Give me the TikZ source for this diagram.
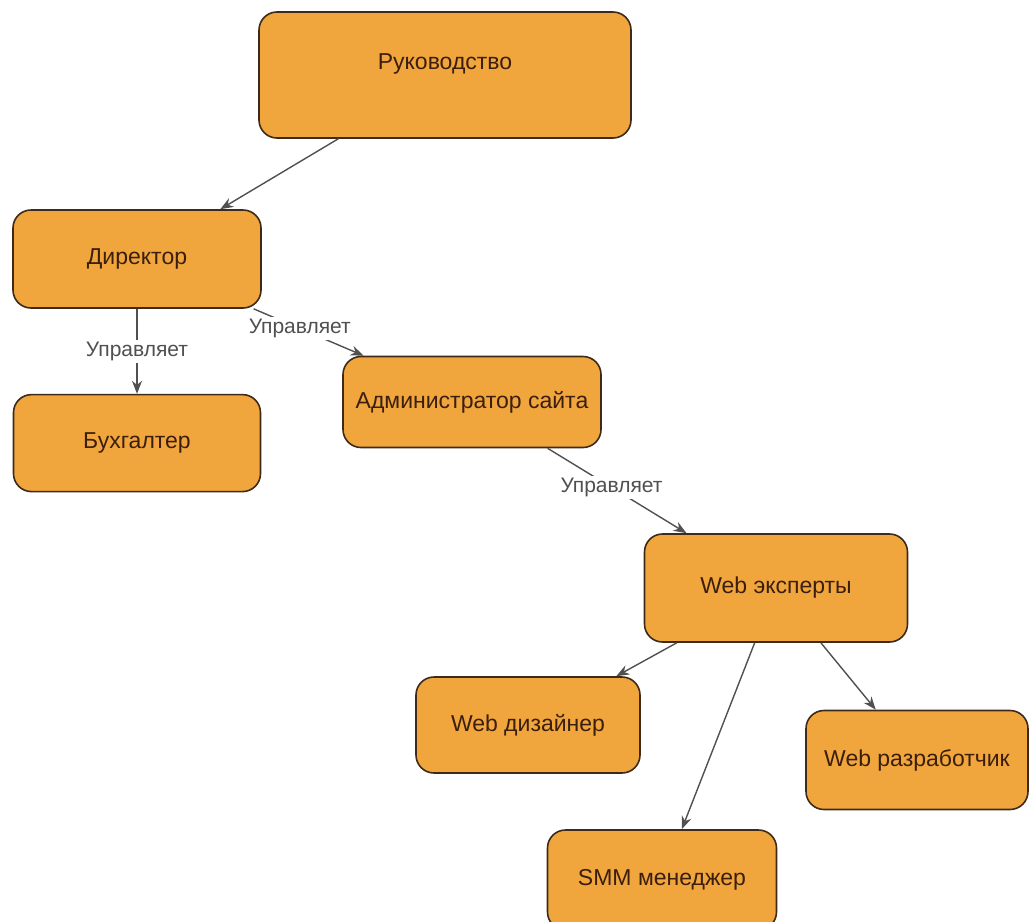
\documentclass[tikz,border=0pt]{standalone}
\usepackage{fontspec}
\setmainfont{Liberation Sans}
\usetikzlibrary{positioning, arrows.meta}
\definecolor{boxfill}{HTML}{F0A63C}
\definecolor{boxline}{HTML}{3D2A1A}
\definecolor{boxtext}{HTML}{3B1E0E}
\definecolor{linkgray}{HTML}{505050}
\tikzset{
    x=1pt, y=-1pt, % one unit is one pixel of the sketch
    box/.style={ % orange blocks
        draw=boxline, fill=boxfill, line width=1.6pt,
        rounded corners=18pt, text=boxtext,
        font=\fontsize{23}{27}\selectfont, inner sep=0pt
    },
    link/.style={ % connectors
        draw=linkgray, line width=1.4pt,
        -{Stealth[length=13pt,width=10pt]}
    },
    lbl/.style={fill=white, text=linkgray, inner sep=2pt,
        font=\fontsize{21}{24}\selectfont}
}
\begin{document}
\begin{tikzpicture}
        \useasboundingbox (0,0) rectangle (1030,921);
        \node[box,minimum width=372pt,minimum height=126pt] (ruk) at (445,75) {\raisebox{26pt}{Руководство}};
        \node[box,minimum width=248pt,minimum height=98pt] (dir) at (137,259) {Директор};
        \node[box,minimum width=247pt,minimum height=97pt,below=85pt of dir] (buh) {Бухгалтер};
        \node[box,minimum width=258pt,minimum height=91pt] (adm) at (472,402) {Администратор сайта};
        \node[box,minimum width=263pt,minimum height=108pt] (web) at (776,588) {Web эксперты};
        \node[box,minimum width=224pt,minimum height=96pt] (dis) at (528,725) {Web дизайнер};
        \node[box,minimum width=222pt,minimum height=99pt] (dev) at (917,760) {Web разработчик};
        \node[box,minimum width=229pt,minimum height=100pt] (smm) at (662,880) {SMM менеджер};
        %
        \draw[link] (ruk) -- (dir);
        \draw[link] (dir) -- node[lbl] {Управляет} (buh);
        \draw[link] (dir) -- node[lbl,pos=.42] {Управляет} (adm);
        \draw[link] (adm) -- node[lbl,pos=.46] {Управляет} (web);
        \draw[link] (web) -- (dis);
        \draw[link] (web) -- (smm);
        \draw[link] (web) -- (dev);
    \end{tikzpicture}
\end{document}
